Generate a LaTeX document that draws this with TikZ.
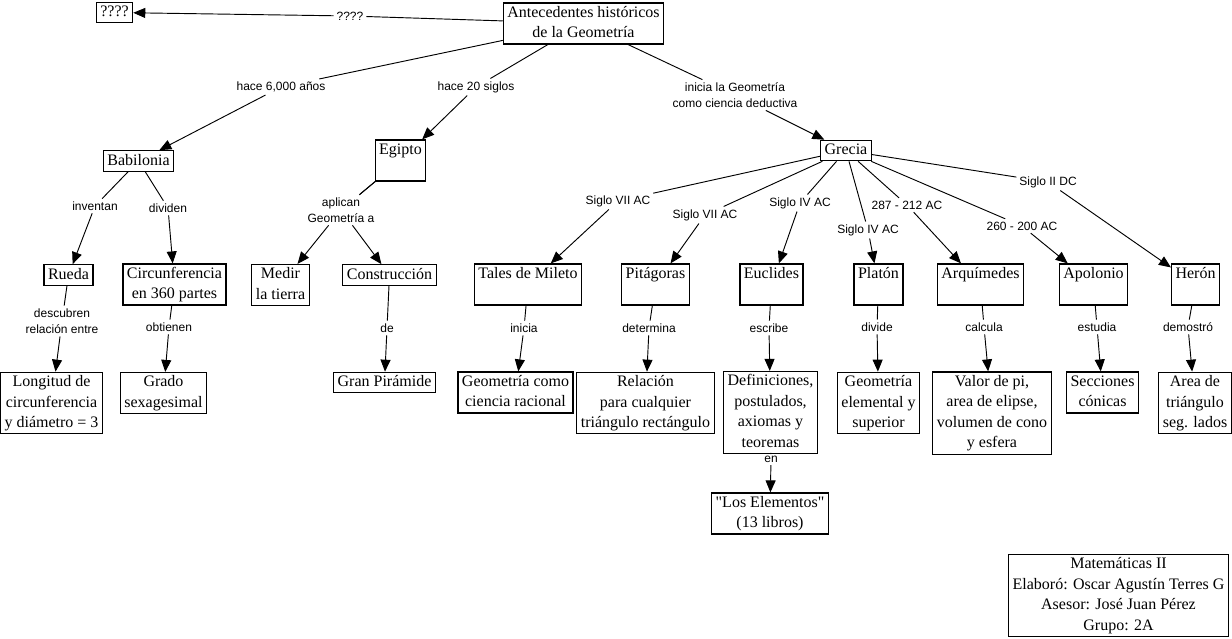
\documentclass[tikz,border=0pt]{standalone}
\usepackage{fontspec}
\setmainfont{Liberation Serif}
\setsansfont{Liberation Sans}
\newfontfamily\rawserif{Liberation Serif}
\usetikzlibrary{arrows.meta}
\newcommand\st{\rule[-2.6pt]{0pt}{11.4pt}}
\newcommand\dq{{\rawserif\symbol{34}}}
\begin{document}
\begin{tikzpicture}[x=0.75pt,y=-0.75pt,
 cbox/.style={draw, line width=0.85pt, align=center, inner xsep=3pt, inner ysep=2pt, font=\fontsize{12}{15.4}\selectfont},
 lbl/.style={align=center, inner sep=2pt, font=\sffamily\fontsize{9}{12}\selectfont},
 ln/.style={line width=0.7pt},
 ar/.style={line width=0.7pt, -{Triangle[length=9pt,width=7.5pt]}}]
\useasboundingbox (0,0) rectangle (1232,639);
% boxes
\node[cbox] (q) at (114.5,12.5) {\st ????};
\node[cbox] (ant) at (583.5,23.5) {\st Antecedentes históricos\\\st de la Geometría};
\node[cbox] (bab) at (138.5,161) {\st Babilonia};
\node[cbox] (egi) at (400.5,160.5) {\st Egipto\\\st};
\node[cbox] (gre) at (846,150.5) {\st Grecia};
\node[cbox] (rue) at (68.5,275) {\st Rueda};
\node[cbox] (cir) at (174.5,284.5) {\st Circunferencia\\\st en 360 partes};
\node[cbox] (lon) at (51.5,403) {\st Longitud de\\\st circunferencia\\\st y diámetro = 3};
\node[cbox] (gra) at (163.5,393) {\st Grado\\\st sexagesimal};
\node[cbox] (med) at (280.5,285) {\st Medir\\\st la tierra};
\node[cbox] (con) at (389.5,275) {\st Construcción};
\node[cbox] (pir) at (384.5,382.5) {\st Gran Pirámide};
\node[cbox] (tal) at (528,284.5) {\st Tales de Mileto\\\st};
\node[cbox] (pit) at (655.5,284.5) {\st Pitágoras\\\st};
\node[cbox] (euc) at (771.5,284.5) {\st Euclides\\\st};
\node[cbox] (pla) at (878.5,284.5) {\st Platón\\\st};
\node[cbox] (arq) at (980.5,284.5) {\st Arquímedes\\\st};
\node[cbox] (apo) at (1093.5,284.5) {\st Apolonio\\\st};
\node[cbox] (her) at (1195.5,284.5) {\st Herón\\\st};
\node[cbox] (gcr) at (515.5,392.5) {\st Geometría como\\\st ciencia racional};
\node[cbox] (rel) at (645.5,403) {\st Relación\\\st para cualquier\\\st triángulo rectángulo};
\node[cbox] (def) at (770.5,412.5) {\st Definiciones,\\\st postulados,\\\st axiomas y\\\st teoremas};
\node[cbox] (ele) at (770,513.5) {\st \dq Los Elementos\dq\\\st (13 libros)};
\node[cbox] (gel) at (878.5,403) {\st Geometría\\\st elemental y\\\st superior};
\node[cbox] (val) at (992,413) {\st Valor de pi,\\\st area de elipse,\\\st volumen de cono\\\st y esfera};
\node[cbox] (sec) at (1102.5,392.5) {\st Secciones\\\st cónicas};
\node[cbox] (are) at (1195,403) {\st Area de\\\st triángulo\\\st seg. lados};
\node[cbox] (foot) at (1118.5,595.5) {\st Matemáticas II\\\st Elaboró: Oscar Agustín Terres G\\\st Asesor: José Juan Pérez\\\st Grupo: 2A};
% labels
\node[lbl] (l0) at (350,16) {????};
\node[lbl] (l1) at (281,87) {hace 6,000 años};
\node[lbl] (l2) at (476,87) {hace 20 siglos};
\node[lbl] (l3) at (735,95) {inicia la Geometría\\como ciencia deductiva};
\node[lbl] (l4) at (95,206) {inventan};
\node[lbl] (l5) at (168,208) {dividen};
\node[lbl] (l6) at (62,321) {descubren\\relación entre};
\node[lbl] (l7) at (169,327) {obtienen};
\node[lbl] (l8) at (341,210) {aplican\\Geometría a};
\node[lbl] (l9) at (387,328) {de};
\node[lbl] (l10) at (618,201) {Siglo VII AC};
\node[lbl] (l11) at (705,215) {Siglo VII AC};
\node[lbl] (l12) at (800,203) {Siglo IV AC};
\node[lbl] (l13) at (868,230) {Siglo IV AC};
\node[lbl] (l14) at (907,205) {287 - 212 AC};
\node[lbl] (l15) at (1022,226) {260 - 200 AC};
\node[lbl] (l16) at (1048,182) {Siglo II DC};
\node[lbl] (l17) at (524,328) {inicia};
\node[lbl] (l18) at (649,328) {determina};
\node[lbl] (l19) at (769,328) {escribe};
\node[lbl] (l20) at (771,459) {en};
\node[lbl] (l21) at (877,327) {divide};
\node[lbl] (l22) at (984,327) {calcula};
\node[lbl] (l23) at (1097,327) {estudia};
\node[lbl] (l24) at (1188,327) {demostró};
% connectors
\foreach \s/\l/\t in {ant/l0/q, ant/l1/bab, ant/l2/egi, ant/l3/gre,
  bab/l4/rue, bab/l5/cir, rue/l6/lon, cir/l7/gra, egi/l8/med, egi/l8/con, con/l9/pir,
  gre/l10/tal, gre/l11/pit, gre/l12/euc, gre/l13/pla, gre/l14/arq, gre/l15/apo, gre/l16/her,
  tal/l17/gcr, pit/l18/rel, euc/l19/def, def/l20/ele, pla/l21/gel, arq/l22/val, apo/l23/sec, her/l24/are}
{
  \draw[ln] (\s) -- (\l);
  \draw[ar] (\l) -- (\t);
}
\end{tikzpicture}
\end{document}
